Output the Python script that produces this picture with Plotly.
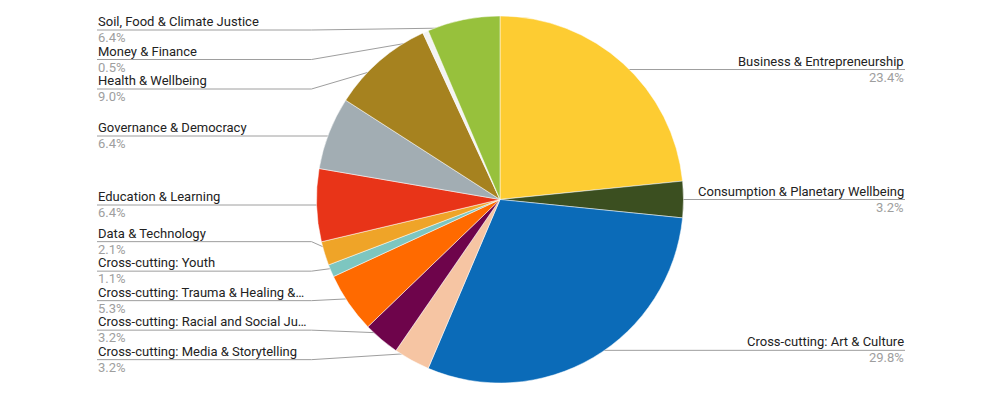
import math
import plotly.graph_objects as go

# Data (clockwise from 12 o'clock)
categories = [
    "Business & Entrepreneurship",
    "Consumption & Planetary Wellbeing",
    "Cross-cutting: Art & Culture",
    "Cross-cutting: Media & Storytelling",
    "Cross-cutting: Racial and Social Ju…",
    "Cross-cutting: Trauma & Healing &…",
    "Cross-cutting: Youth",
    "Data & Technology",
    "Education & Learning",
    "Governance & Democracy",
    "Health & Wellbeing",
    "Money & Finance",
    "Soil, Food & Climate Justice",
]
shares = [23.4, 3.2, 29.8, 3.2, 3.2, 5.3, 1.1, 2.1, 6.4, 6.4, 9.0, 0.5, 6.4]
colors = [
    "#fdcc32", "#3b4f20", "#0b6bb8", "#f6c5a3", "#6e044b", "#ff6a00", "#7dc6c0",
    "#efa428", "#e83418", "#a2adb3", "#a6821f", "#f3f3f3", "#97c13c",
]

W, H = 1000, 420
CX, CY, R = 500, 199.5, 183.5
DOT_R = 0.955 * R
GAP = 29.5
LEFT_X, RIGHT_X = 97, 905
LINE_C = "#9e9e9e"

total = sum(shares)
mids = []
acc = 0
for s in shares:
    mids.append((acc + s / 2) / total * 2 * math.pi)
    acc += s
dots = [(CX + DOT_R * math.sin(a), CY - DOT_R * math.cos(a)) for a in mids]


def spread(ys, gap, lo, hi):
    # group overlapping labels and centre each group on its slices
    groups = []

    def start(g):
        n = len(g)
        s = sum(ys[i] for i in g) / n - gap * (n - 1) / 2
        return min(max(s, lo), hi - gap * (n - 1))

    for i in range(len(ys)):
        groups.append([i])
        while len(groups) > 1:
            prev, last = groups[-2], groups[-1]
            if start(last) < start(prev) + gap * (len(prev) - 1) + gap:
                groups[-2:] = [prev + last]
            else:
                break
    out = [0] * len(ys)
    for g in groups:
        s = start(g)
        for k, i in enumerate(g):
            out[i] = s + k * gap
    return out


left = sorted([i for i, a in enumerate(mids) if a > math.pi], key=lambda i: dots[i][1])
right = sorted([i for i, a in enumerate(mids) if a <= math.pi], key=lambda i: dots[i][1])
label_y = {}
for side in (left, right):
    ys = spread([dots[i][1] for i in side], GAP, 30, 400)
    for i, y in zip(side, ys):
        label_y[i] = y

fig = go.Figure()
fig.add_trace(go.Pie(
    labels=categories, values=shares, sort=False, direction="clockwise",
    marker=dict(colors=colors, line=dict(color="white", width=0.5)),
    textinfo="none", hoverinfo="label+percent", showlegend=False,
    domain=dict(x=[(CX - R) / W, (CX + R) / W], y=[1 - (CY + R) / H, 1 - (CY - R) / H]),
))

annotations = []
for i, name in enumerate(categories):
    dx, dy = dots[i]
    ly = label_y[i]
    if i in left:
        elbow = CX - R - 5
        xs = [LEFT_X, elbow, dx]
        tx, anchor = LEFT_X, "left"
    else:
        elbow = CX + R + 5
        xs = [RIGHT_X, elbow, dx]
        tx, anchor = RIGHT_X, "right"
    fig.add_trace(go.Scatter(
        x=xs, y=[ly, ly, dy], mode="lines", line=dict(color=LINE_C, width=1),
        hoverinfo="skip", showlegend=False, xaxis="x", yaxis="y",
    ))
    fig.add_trace(go.Scatter(
        x=[dx], y=[dy], mode="markers", marker=dict(color=LINE_C, size=6),
        hoverinfo="skip", showlegend=False,
    ))
    annotations.append(dict(
        x=tx, y=ly - 8.5, xref="x", yref="y", text=name, showarrow=False,
        xanchor=anchor, yanchor="middle", borderpad=0,
        font=dict(family="Roboto", size=13, color="#222222"),
    ))
    annotations.append(dict(
        x=tx, y=ly + 7.5, xref="x", yref="y", text=f"{shares[i] / total * 100:.1f}%", showarrow=False,
        xanchor=anchor, yanchor="middle", borderpad=0,
        font=dict(family="Roboto", size=13, color="#9e9e9e"),
    ))

fig.update_layout(
    width=W, height=H, margin=dict(l=0, r=0, t=0, b=0),
    paper_bgcolor="white", plot_bgcolor="rgba(0,0,0,0)",
    xaxis=dict(range=[0, W], visible=False, fixedrange=True),
    yaxis=dict(range=[H, 0], visible=False, fixedrange=True),
    annotations=annotations,
    font=dict(family="Roboto"),
)

fig.write_html(
    "out.html",
    config={"displayModeBar": False},
    post_script="document.body.style.margin='0';",
)
